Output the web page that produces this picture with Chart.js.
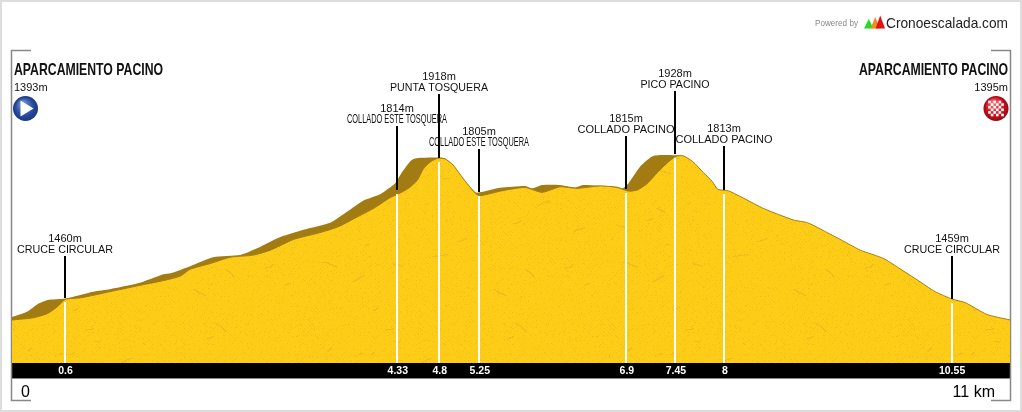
<!DOCTYPE html>
<html>
<head>
<meta charset="utf-8">
<title>Perfil Pacino</title>
<script src="https://cdn.jsdelivr.net/npm/chart.js@4/dist/chart.umd.min.js"></script>
<style>
  html, body { margin: 0; padding: 0; background: #fff; }
  canvas { display: block; }
</style>
</head>
<body>
<canvas id="profile" width="1022" height="412"></canvas>
<script>
// Front profile (km, m)
const frontKm = [0, 0.24, 0.40, 0.51, 0.60, 0.77, 1.10, 1.41, 1.70, 1.89, 2.00, 2.23, 2.45, 2.71, 2.90, 3.16, 3.43, 3.66, 3.88, 4.06, 4.25, 4.33, 4.45, 4.55, 4.62, 4.70, 4.78, 4.86, 4.95, 5.06, 5.20, 5.25, 5.48, 5.59, 5.76, 5.95, 6.15, 6.34, 6.60, 6.79, 6.92, 7.02, 7.13, 7.27, 7.44, 7.53, 7.64, 7.76, 7.86, 7.92, 8.04, 8.23, 8.43, 8.62, 8.77, 8.93, 9.15, 9.41, 9.52, 9.78, 9.93, 10.16, 10.36, 10.55, 10.70, 10.94, 11.20]
const frontElev = [1393, 1400, 1414, 1436, 1460, 1465, 1485, 1504, 1521, 1536, 1558, 1577, 1597, 1604, 1620, 1655, 1675, 1696, 1729, 1756, 1792, 1802, 1821, 1848, 1886, 1908, 1919, 1917, 1897, 1854, 1805, 1797, 1812, 1818, 1824, 1808, 1826, 1821, 1829, 1824, 1812, 1816, 1837, 1881, 1924, 1927, 1908, 1872, 1843, 1818, 1813, 1786, 1756, 1734, 1718, 1709, 1677, 1637, 1620, 1593, 1566, 1523, 1485, 1461, 1449, 1411, 1393]

// Shaded slope behind the front profile
const backKm = [0, 0.17, 0.29, 0.40, 0.60, 0.91, 1.10, 1.41, 1.70, 1.78, 2.00, 2.26, 2.56, 2.75, 2.98, 3.27, 3.57, 3.76, 3.94, 4.13, 4.30, 4.38, 4.50, 4.78, 4.86, 4.95, 5.06, 5.20, 5.25, 5.48, 5.76, 5.84, 5.95, 6.15, 6.32, 6.41, 6.79, 6.85, 6.92, 7.05, 7.20, 7.44, 7.53]
const backElev = [1403, 1420, 1445, 1458, 1463, 1485, 1493, 1512, 1542, 1545, 1568, 1597, 1604, 1626, 1659, 1686, 1709, 1745, 1781, 1802, 1838, 1875, 1916, 1921, 1918, 1897, 1854, 1808, 1808, 1823, 1829, 1821, 1832, 1832, 1824, 1832, 1826, 1821, 1838, 1892, 1927, 1929, 1927]

// Waypoints
const markerKm = [0.6, 4.33, 4.8, 5.25, 6.9, 7.45, 8, 10.55]
const markerElev = [1460, 1814, 1918, 1805, 1815, 1928, 1813, 1459]
const markerNames = ['CRUCE CIRCULAR', 'COLLADO ESTE TOSQUERA', 'PUNTA TOSQUERA', 'COLLADO ESTE TOSQUERA', 'COLLADO PACINO', 'PICO PACINO', 'COLLADO PACINO', 'CRUCE CIRCULAR']

const startName = 'APARCAMIENTO PACINO'
const finishName = 'APARCAMIENTO PACINO'
const startElev = 1393
const finishElev = 1395
const axisStart = '0'
const axisEnd = '11 km'

// Layout, pixels: where each waypoint stem starts at the top
const stemTopPx = [256, 126, 94, 149, 136, 91, 146, 256]
const nameWidthPx = [96, 100, 98, 100, 97, 69, 97, 96]
const narrowName = 'COLLADO ESTE TOSQUERA'

const SANS = '"Liberation Sans", Arial, sans-serif'
const BROWN = '#a27c12'
const FRAME = '#888888'

// Speckled yellow fill, same look every run
function rockPattern() {
  const size = 300
  const c = document.createElement('canvas')
  c.width = size
  c.height = size
  const g = c.getContext('2d')
  g.fillStyle = '#fdcc16'
  g.fillRect(0, 0, size, size)
  let seed = 12345
  const next = (n) => {
    seed = (seed * 1103515245 + 12345) & 0x7fffffff
    return (seed >> 8) % n
  }
  g.fillStyle = '#f3c21a'
  for (let i = 0; i < 9000; i++) {
    g.fillRect(next(size), next(size), 1, 1)
  }
  g.fillStyle = '#ebbb20'
  for (let i = 0; i < 1200; i++) {
    g.fillRect(next(size), next(size), 1, 1)
  }
  g.fillStyle = '#edbd20'
  for (let i = 0; i < 45; i++) {
    let x = next(size)
    let y = next(size)
    const dx = next(2) ? 1 : -1
    const len = 4 + next(12)
    for (let k = 0; k < len; k++) {
      g.fillRect(x, y, 2, 1)
      x += dx
      if (next(3) === 0) y += 1
    }
  }
  return g.createPattern(c, 'repeat')
}

function zip(xs, ys) {
  return xs.map((x, i) => ({ x: x, y: ys[i] }))
}

function text(ctx, str, x, y, font, color, align, maxWidth) {
  ctx.font = font
  ctx.fillStyle = color
  ctx.textAlign = align
  ctx.textBaseline = 'middle'
  if (maxWidth) ctx.fillText(str, x, y, maxWidth)
  else ctx.fillText(str, x, y)
}

function triangle(ctx, x1, x2, top, bottom, color) {
  ctx.fillStyle = color
  ctx.beginPath()
  ctx.moveTo(x1, bottom)
  ctx.lineTo((x1 + x2) / 2, top)
  ctx.lineTo(x2, bottom)
  ctx.closePath()
  ctx.fill()
}

function drawStartIcon(ctx, x, y) {
  const grad = ctx.createRadialGradient(x - 3, y - 5, 2, x, y, 12.5)
  grad.addColorStop(0, '#6f8fd0')
  grad.addColorStop(0.7, '#24479a')
  grad.addColorStop(1, '#1c3a80')
  ctx.fillStyle = grad
  ctx.beginPath()
  ctx.arc(x, y, 12.5, 0, Math.PI * 2)
  ctx.fill()
  ctx.fillStyle = '#ffffff'
  ctx.beginPath()
  ctx.moveTo(x - 5, y - 8)
  ctx.lineTo(x + 8, y)
  ctx.lineTo(x - 5, y + 8)
  ctx.closePath()
  ctx.fill()
}

function drawFinishIcon(ctx, x, y) {
  const grad = ctx.createRadialGradient(x - 3, y - 6, 2, x, y, 12.5)
  grad.addColorStop(0, '#f06a70')
  grad.addColorStop(0.65, '#d4101e')
  grad.addColorStop(1, '#8e0a12')
  ctx.fillStyle = grad
  ctx.beginPath()
  ctx.arc(x, y, 12.5, 0, Math.PI * 2)
  ctx.fill()
  ctx.fillStyle = '#ffffff'
  for (let r = -3; r < 3; r++) {
    for (let q = -3; q < 3; q++) {
      if ((r + q) % 2 === 0) ctx.fillRect(x + q * 2.6, y + r * 2.6, 2.6, 2.6)
    }
  }
}

const decorPlugin = {
  id: 'decor',
  beforeDraw(chart) {
    const ctx = chart.ctx
    const area = chart.chartArea
    ctx.save()

    // outer border of the picture
    ctx.strokeStyle = '#dddddd'
    ctx.lineWidth = 2
    ctx.strokeRect(1, 1, chart.width - 2, chart.height - 2)

    // distance band
    ctx.fillStyle = '#000000'
    ctx.fillRect(area.left, area.bottom, area.right - area.left, 15)
    ctx.fillStyle = FRAME
    ctx.fillRect(area.left, area.bottom + 15, area.right - area.left, 1)

    // corner frame
    ctx.strokeStyle = FRAME
    ctx.lineWidth = 1.5
    ctx.beginPath()
    ctx.moveTo(31, 50.5)
    ctx.lineTo(11.5, 50.5)
    ctx.lineTo(11.5, 400.5)
    ctx.lineTo(31, 400.5)
    ctx.moveTo(991, 50.5)
    ctx.lineTo(1010.5, 50.5)
    ctx.lineTo(1010.5, 400.5)
    ctx.lineTo(991, 400.5)
    ctx.stroke()

    // header
    text(ctx, 'Powered by', 815, 24, '8.5px ' + SANS, '#888888', 'left', 43)
    triangle(ctx, 864, 873.5, 19, 28.5, '#22dd22')
    triangle(ctx, 870.5, 880, 17, 28.5, '#f58a1f')
    triangle(ctx, 875.5, 885, 15.5, 28.5, '#e01414')
    text(ctx, 'Cronoescalada.com', 886, 23.5, '14.5px ' + SANS, '#222222', 'left', 122)
    ctx.restore()
  },
  afterDatasetsDraw(chart) {
    const ctx = chart.ctx
    const xs = chart.scales.x
    const ys = chart.scales.y
    const area = chart.chartArea
    ctx.save()

    // waypoint stems and labels
    markerKm.forEach((km, i) => {
      const x = Math.floor(xs.getPixelForValue(km))
      const y = Math.round(ys.getPixelForValue(markerElev[i]))
      ctx.fillStyle = '#000000'
      ctx.fillRect(x - 1, stemTopPx[i], 2, y - 1 - stemTopPx[i])
      ctx.fillStyle = '#ffffff'
      ctx.fillRect(x - 1, y + 3, 2, area.bottom - y - 3)
      text(ctx, markerElev[i] + 'm', x, stemTopPx[i] - 17, '11px ' + SANS, '#111111', 'center')
      const small = markerNames[i] === narrowName
      text(ctx, markerNames[i], x, stemTopPx[i] - 6.5, (small ? '12px ' : '11px ') + SANS, '#111111', 'center', nameWidthPx[i])
    })

    // start and finish
    text(ctx, startName, 14, 70.5, 'bold 17px ' + SANS, '#111111', 'left', 149)
    text(ctx, startElev + 'm', 14, 88, '11px ' + SANS, '#111111', 'left')
    drawStartIcon(ctx, 25.5, 108.5)
    text(ctx, finishName, 1008, 70.5, 'bold 17px ' + SANS, '#111111', 'right', 149)
    text(ctx, finishElev + 'm', 1008, 88, '11px ' + SANS, '#111111', 'right')
    drawFinishIcon(ctx, 996, 108.5)

    // distance ends
    text(ctx, axisStart, 25.5, 393, '16px ' + SANS, '#000000', 'center')
    text(ctx, axisEnd, 995, 393, '16px ' + SANS, '#000000', 'right')
    ctx.restore()
  },
}

new Chart(document.getElementById('profile'), {
  type: 'line',
  data: {
    datasets: [
      {
        data: zip(frontKm, frontElev),
        borderColor: BROWN,
        borderWidth: 1,
        backgroundColor: rockPattern(),
        fill: 'start',
        pointRadius: 0,
        tension: 0.2,
        order: 1,
      },
      {
        data: zip(backKm, backElev),
        borderWidth: 0,
        backgroundColor: BROWN,
        fill: 'start',
        pointRadius: 0,
        tension: 0.2,
        order: 2,
      },
    ],
  },
  options: {
    responsive: false,
    animation: false,
    layout: { padding: { left: 12, right: 12, top: 50, bottom: 34 } },
    plugins: {
      legend: { display: false },
      tooltip: { enabled: false },
    },
    scales: {
      x: {
        type: 'linear',
        min: 0,
        max: 11.2,
        border: { display: false },
        grid: { display: false, drawTicks: false },
        afterBuildTicks: (scale) => {
          scale.ticks = markerKm.map((km) => ({ value: km }))
        },
        afterFit: (scale) => {
          scale.height = 15
        },
        ticks: {
          autoSkip: false,
          maxRotation: 0,
          padding: 2,
          color: '#ffffff',
          font: { family: SANS, size: 10.5, weight: 'bold' },
          callback: (v) => String(v),
        },
      },
      y: {
        display: false,
        min: 1253,
        max: 2271,
      },
    },
  },
  plugins: [decorPlugin],
})
</script>
</body>
</html>
